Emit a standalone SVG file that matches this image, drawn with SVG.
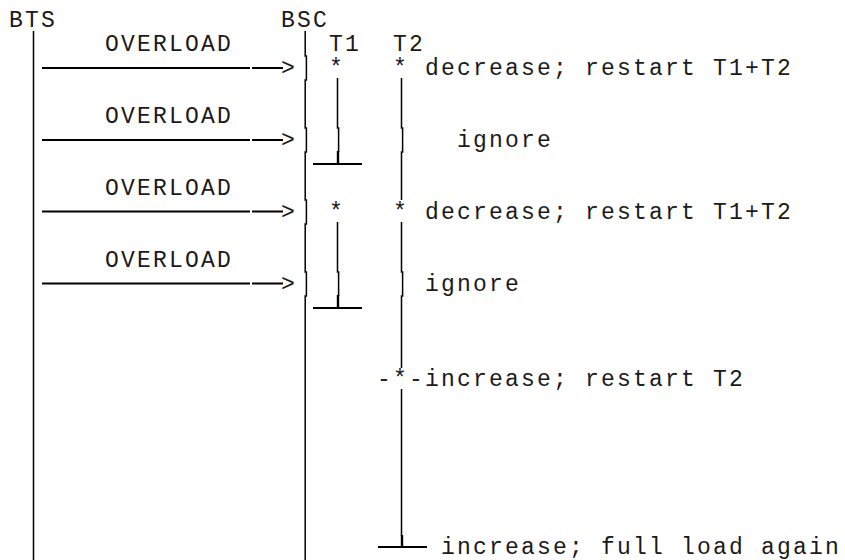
<svg xmlns="http://www.w3.org/2000/svg" width="845" height="560" viewBox="0 0 845 560">
<style>
text{font-family:"Liberation Mono","Courier New",monospace;font-size:23px;letter-spacing:2.2px;fill:#1a1a1a;white-space:pre}
.v{fill:none;stroke:#000;stroke-width:1.5}
.h{fill:none;stroke:#000;stroke-width:2.2}
.tk{fill:none;stroke:#000;stroke-width:2.4}
</style>
<rect width="845" height="560" fill="#fff"/>
<g id="bts">
<text x="9" y="27">BTS</text>
<path class="v" d="M33.5,31V560"/>
</g>
<g id="bsc">
<text x="281" y="27">BSC</text>
<path class="v" d="M305.2,31V56H306.4V80H305.2V128H306.4V152H305.2V200H306.4V224H305.2V272H306.4V296H305.2V560"/>
</g>
<g id="t1">
<text x="329" y="51">T1</text>
<text x="329" y="75">*</text>
<path class="v" d="M337.5,78V128H338.6V152"/>
<path class="tk" d="M338,151V164"/>
<path class="h" d="M313,164H362"/>
<text x="329" y="219">*</text>
<path class="v" d="M337.5,222V272H338.6V296"/>
<path class="tk" d="M338,295V308"/>
<path class="h" d="M313,308H362"/>
</g>
<g id="t2">
<text x="393" y="51">T2</text>
<text x="393" y="75">* decrease; restart T1+T2</text>
<path class="v" d="M401.5,78V128H402.6V152H401.5V200"/>
<text x="457" y="147">ignore</text>
<text x="393" y="219">* decrease; restart T1+T2</text>
<path class="v" d="M401.5,222V272H402.6V296H401.5V368"/>
<text x="425" y="291">ignore</text>
<text x="377" y="386">-*-increase; restart T2</text>
<path class="v" d="M401.5,389V536"/>
<path class="tk" d="M402,535V547"/>
<path class="h" d="M378,547H427"/>
<text x="441" y="554">increase; full load again</text>
</g>
<g id="connectors">
<text x="105" y="51">OVERLOAD</text>
<path class="h" d="M42,68H250M252,68H283"/>
<text x="281" y="75">&gt;</text>
<text x="105" y="123">OVERLOAD</text>
<path class="h" d="M42,140H250M252,140H283"/>
<text x="281" y="147">&gt;</text>
<text x="105" y="195">OVERLOAD</text>
<path class="h" d="M42,211.5H250M252,211.5H283"/>
<text x="281" y="219">&gt;</text>
<text x="105" y="267">OVERLOAD</text>
<path class="h" d="M42,283.5H250M252,283.5H283"/>
<text x="281" y="291">&gt;</text>
</g>
</svg>
